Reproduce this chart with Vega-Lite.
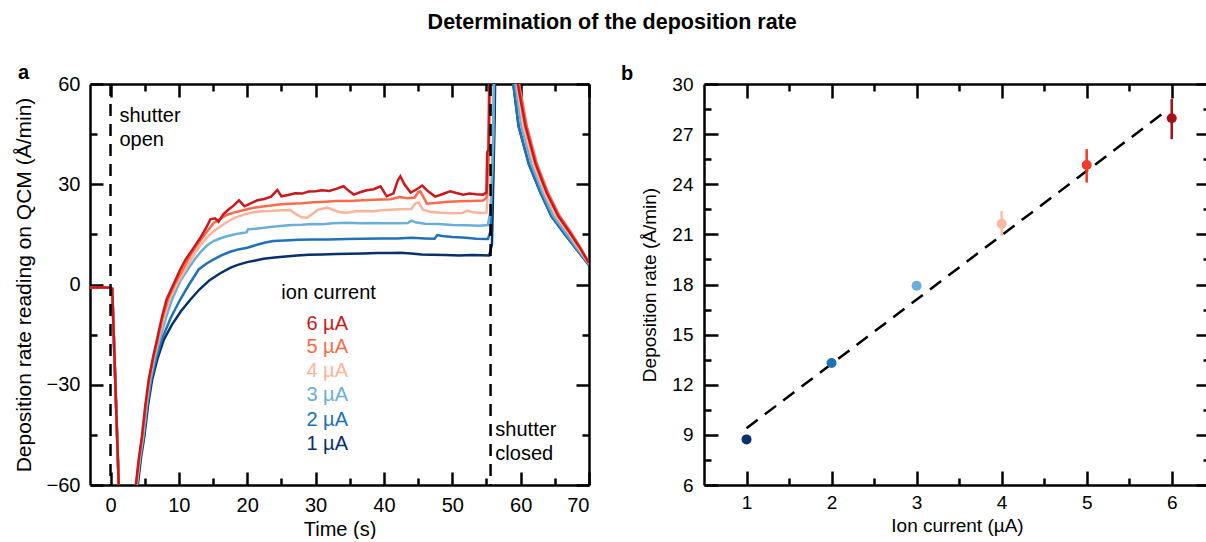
{
  "$schema": "https://vega.github.io/schema/vega-lite/v6.json",
  "padding": {"left": 13, "top": 11, "right": 0, "bottom": 0},
  "autosize": {"type": "pad"},
  "title": {"text": "Determination of the deposition rate", "anchor": "middle", "fontSize": 21.5, "fontWeight": "bold", "font": "Liberation Sans", "color": "black", "offset": 30},
  "config": {
    "font": "Liberation Sans",
    "view": {"stroke": null},
    "axis": {"grid": false, "domainColor": "black", "domainWidth": 2.5, "tickColor": "black", "tickWidth": 2.5, "labelColor": "black", "titleColor": "black", "titleFontWeight": "normal", "labelFont": "Liberation Sans", "titleFont": "Liberation Sans"}
  },
  "spacing": 30,
  "resolve": {"scale": {"color": "independent"}},
  "datasets": {
    "qcm": [
      {"series":"1 µA","t":-3,"v":-0.9},{"series":"1 µA","t":-1.5,"v":-0.8},{"series":"1 µA","t":0,"v":-1.0},{"series":"1 µA","t":0.25,"v":-1.3},{"series":"1 µA","t":1.4,"v":-72},
      {"series":"1 µA","t":3.7,"v":-70},{"series":"1 µA","t":4.0,"v":-60},{"series":"1 µA","t":4.45,"v":-52},{"series":"1 µA","t":4.95,"v":-45.4},{"series":"1 µA","t":5.5,"v":-36},{"series":"1 µA","t":6.1,"v":-28.4},{"series":"1 µA","t":6.9,"v":-22},{"series":"1 µA","t":7.8,"v":-16.5},{"series":"1 µA","t":9.0,"v":-12},{"series":"1 µA","t":10.3,"v":-8},{"series":"1 µA","t":11.7,"v":-4.5},{"series":"1 µA","t":13,"v":-1.5},{"series":"1 µA","t":14.5,"v":1.3},{"series":"1 µA","t":16,"v":3.3},{"series":"1 µA","t":17.5,"v":5},{"series":"1 µA","t":18.5,"v":5.8},{"series":"1 µA","t":20,"v":6.7},{"series":"1 µA","t":21.2,"v":7.2},{"series":"1 µA","t":22.4,"v":7.7},{"series":"1 µA","t":24,"v":8.1},{"series":"1 µA","t":25.6,"v":8.4},{"series":"1 µA","t":27.3,"v":8.7},{"series":"1 µA","t":29,"v":8.9},{"series":"1 µA","t":31,"v":9.0},{"series":"1 µA","t":33,"v":9.1},{"series":"1 µA","t":35,"v":9.2},{"series":"1 µA","t":37,"v":9.3},{"series":"1 µA","t":39,"v":9.4},{"series":"1 µA","t":41,"v":9.4},{"series":"1 µA","t":42.4,"v":9.5},{"series":"1 µA","t":44,"v":9.3},{"series":"1 µA","t":45.5,"v":9.0},{"series":"1 µA","t":47,"v":8.9},{"series":"1 µA","t":49,"v":8.8},{"series":"1 µA","t":51,"v":8.7},{"series":"1 µA","t":53,"v":8.8},{"series":"1 µA","t":55.4,"v":8.7},{"series":"1 µA","t":55.8,"v":12},{"series":"1 µA","t":56.2,"v":50},{"series":"1 µA","t":56.4,"v":85},{"series":"1 µA","t":58.3,"v":85},{"series":"1 µA","t":58.8,"v":62},{"series":"1 µA","t":59.7,"v":47.4},{"series":"1 µA","t":61.2,"v":36},{"series":"1 µA","t":62.9,"v":27.5},{"series":"1 µA","t":64.5,"v":20.5},{"series":"1 µA","t":66.3,"v":15.5},{"series":"1 µA","t":68.2,"v":10.5},{"series":"1 µA","t":70,"v":5.8},

      {"series":"2 µA","t":-3,"v":-0.9},{"series":"2 µA","t":-1.5,"v":-0.8},{"series":"2 µA","t":0,"v":-1.0},{"series":"2 µA","t":0.25,"v":-1.3},{"series":"2 µA","t":1.4,"v":-72},
      {"series":"2 µA","t":3.6,"v":-70},{"series":"2 µA","t":3.9,"v":-60},{"series":"2 µA","t":4.35,"v":-52},{"series":"2 µA","t":4.85,"v":-45.4},{"series":"2 µA","t":5.4,"v":-36},{"series":"2 µA","t":5.95,"v":-28.4},{"series":"2 µA","t":6.7,"v":-22},{"series":"2 µA","t":7.5,"v":-16.5},{"series":"2 µA","t":8.8,"v":-10},{"series":"2 µA","t":10.2,"v":-4.5},{"series":"2 µA","t":11.5,"v":0},{"series":"2 µA","t":12.9,"v":4.5},{"series":"2 µA","t":14,"v":6.2},{"series":"2 µA","t":15.1,"v":7.5},{"series":"2 µA","t":16.3,"v":8.8},{"series":"2 µA","t":17.5,"v":9.8},{"series":"2 µA","t":18.7,"v":10.5},{"series":"2 µA","t":20,"v":11.0},{"series":"2 µA","t":21.3,"v":11.8},{"series":"2 µA","t":22.5,"v":12.5},{"series":"2 µA","t":23.8,"v":13.0},{"series":"2 µA","t":25.5,"v":13.2},{"series":"2 µA","t":27.5,"v":13.4},{"series":"2 µA","t":29.7,"v":13.5},{"series":"2 µA","t":32,"v":13.5},{"series":"2 µA","t":34.5,"v":13.6},{"series":"2 µA","t":37,"v":13.7},{"series":"2 µA","t":39.5,"v":13.8},{"series":"2 µA","t":42,"v":13.8},{"series":"2 µA","t":44,"v":14.0},{"series":"2 µA","t":46,"v":13.8},{"series":"2 µA","t":47.4,"v":13.7},{"series":"2 µA","t":47.8,"v":14.8},{"series":"2 µA","t":48.5,"v":14.5},{"series":"2 µA","t":50,"v":14.2},{"series":"2 µA","t":52,"v":14.0},{"series":"2 µA","t":53.5,"v":13.7},{"series":"2 µA","t":55.2,"v":13.6},{"series":"2 µA","t":55.6,"v":16},{"series":"2 µA","t":56.0,"v":40},{"series":"2 µA","t":56.3,"v":85},{"series":"2 µA","t":58.3,"v":85},{"series":"2 µA","t":58.8,"v":62},{"series":"2 µA","t":59.7,"v":47.4},{"series":"2 µA","t":61.2,"v":36},{"series":"2 µA","t":62.9,"v":27.5},{"series":"2 µA","t":64.5,"v":20.5},{"series":"2 µA","t":66.3,"v":15.5},{"series":"2 µA","t":68.2,"v":10.5},{"series":"2 µA","t":70,"v":5.9},

      {"series":"3 µA","t":-3,"v":-0.9},{"series":"3 µA","t":-1.5,"v":-0.8},{"series":"3 µA","t":0,"v":-1.0},{"series":"3 µA","t":0.25,"v":-1.3},{"series":"3 µA","t":1.4,"v":-72},
      {"series":"3 µA","t":3.6,"v":-70},{"series":"3 µA","t":3.85,"v":-60},{"series":"3 µA","t":4.3,"v":-52},{"series":"3 µA","t":4.8,"v":-45.4},{"series":"3 µA","t":5.3,"v":-36},{"series":"3 µA","t":5.85,"v":-28.4},{"series":"3 µA","t":6.5,"v":-22},{"series":"3 µA","t":7.2,"v":-16.5},{"series":"3 µA","t":8.1,"v":-10},{"series":"3 µA","t":9.0,"v":-4.5},{"series":"3 µA","t":10.2,"v":1},{"series":"3 µA","t":11.3,"v":4.5},{"series":"3 µA","t":12.3,"v":7.5},{"series":"3 µA","t":13.3,"v":10},{"series":"3 µA","t":14.2,"v":11.8},{"series":"3 µA","t":15.1,"v":13},{"series":"3 µA","t":16.2,"v":13.9},{"series":"3 µA","t":17.3,"v":14.6},{"series":"3 µA","t":18.4,"v":15.1},{"series":"3 µA","t":19.5,"v":15.5},{"series":"3 µA","t":19.9,"v":15.6},{"series":"3 µA","t":20.1,"v":16.5},{"series":"3 µA","t":21.2,"v":16.7},{"series":"3 µA","t":22.5,"v":17.0},{"series":"3 µA","t":23.7,"v":17.3},{"series":"3 µA","t":24.9,"v":17.5},{"series":"3 µA","t":26.5,"v":17.8},{"series":"3 µA","t":28,"v":17.9},{"series":"3 µA","t":29.5,"v":18.1},{"series":"3 µA","t":31,"v":18.0},{"series":"3 µA","t":32.5,"v":18.3},{"series":"3 µA","t":34.6,"v":18.5},{"series":"3 µA","t":36.5,"v":18.3},{"series":"3 µA","t":38.5,"v":18.4},{"series":"3 µA","t":40,"v":18.3},{"series":"3 µA","t":42,"v":18.3},{"series":"3 µA","t":43.5,"v":18.4},{"series":"3 µA","t":44.0,"v":19.1},{"series":"3 µA","t":44.6,"v":18.6},{"series":"3 µA","t":46,"v":18.2},{"series":"3 µA","t":48,"v":18.1},{"series":"3 µA","t":50,"v":17.8},{"series":"3 µA","t":52,"v":17.7},{"series":"3 µA","t":54,"v":17.6},{"series":"3 µA","t":55.2,"v":17.8},{"series":"3 µA","t":55.6,"v":22},{"series":"3 µA","t":56.0,"v":45},{"series":"3 µA","t":56.2,"v":85},{"series":"3 µA","t":58.6,"v":85},{"series":"3 µA","t":59.1,"v":62},{"series":"3 µA","t":60.1,"v":47.4},{"series":"3 µA","t":61.6,"v":36},{"series":"3 µA","t":63.2,"v":27.5},{"series":"3 µA","t":64.8,"v":20.5},{"series":"3 µA","t":66.6,"v":15.5},{"series":"3 µA","t":68.4,"v":10.5},{"series":"3 µA","t":70,"v":6.1},

      {"series":"4 µA","t":-3,"v":-0.9},{"series":"4 µA","t":-1.5,"v":-0.8},{"series":"4 µA","t":0,"v":-1.0},{"series":"4 µA","t":0.25,"v":-1.3},{"series":"4 µA","t":1.4,"v":-72},
      {"series":"4 µA","t":3.55,"v":-70},{"series":"4 µA","t":3.8,"v":-60},{"series":"4 µA","t":4.25,"v":-52},{"series":"4 µA","t":4.7,"v":-45.4},{"series":"4 µA","t":5.2,"v":-36},{"series":"4 µA","t":5.7,"v":-28.4},{"series":"4 µA","t":6.3,"v":-22},{"series":"4 µA","t":7.0,"v":-16.5},{"series":"4 µA","t":7.8,"v":-10},{"series":"4 µA","t":8.6,"v":-4.5},{"series":"4 µA","t":9.8,"v":0.5},{"series":"4 µA","t":11.0,"v":4.5},{"series":"4 µA","t":12.0,"v":8.2},{"series":"4 µA","t":13.0,"v":11.3},{"series":"4 µA","t":14.0,"v":13.8},{"series":"4 µA","t":15.0,"v":15.8},{"series":"4 µA","t":16.2,"v":17.6},{"series":"4 µA","t":17.3,"v":19.0},{"series":"4 µA","t":18.3,"v":20.1},{"series":"4 µA","t":19.5,"v":20.9},{"series":"4 µA","t":20.9,"v":21.6},{"series":"4 µA","t":22.2,"v":21.9},{"series":"4 µA","t":23.5,"v":22.0},{"series":"4 µA","t":25.0,"v":22.2},{"series":"4 µA","t":26.3,"v":22.3},{"series":"4 µA","t":27.2,"v":21.0},{"series":"4 µA","t":28.0,"v":20.1},{"series":"4 µA","t":28.8,"v":20.0},{"series":"4 µA","t":29.5,"v":21.0},{"series":"4 µA","t":30.3,"v":22.3},{"series":"4 µA","t":31.7,"v":23.0},{"series":"4 µA","t":32.6,"v":22.3},{"series":"4 µA","t":33.6,"v":21.6},{"series":"4 µA","t":34.6,"v":21.5},{"series":"4 µA","t":35.8,"v":21.9},{"series":"4 µA","t":37.2,"v":22.0},{"series":"4 µA","t":38.5,"v":21.9},{"series":"4 µA","t":39.5,"v":22.2},{"series":"4 µA","t":41,"v":22.4},{"series":"4 µA","t":42.5,"v":22.5},{"series":"4 µA","t":44.0,"v":22.6},{"series":"4 µA","t":44.6,"v":24.3},{"series":"4 µA","t":45.1,"v":24.5},{"series":"4 µA","t":45.7,"v":22.4},{"series":"4 µA","t":46.8,"v":21.8},{"series":"4 µA","t":48.3,"v":21.5},{"series":"4 µA","t":50,"v":21.3},{"series":"4 µA","t":51.5,"v":21.4},{"series":"4 µA","t":52.2,"v":22.1},{"series":"4 µA","t":53,"v":21.6},{"series":"4 µA","t":54,"v":21.4},{"series":"4 µA","t":55.0,"v":21.5},{"series":"4 µA","t":55.3,"v":30},{"series":"4 µA","t":55.8,"v":85},{"series":"4 µA","t":58.9,"v":85},{"series":"4 µA","t":59.3,"v":62},{"series":"4 µA","t":60.4,"v":47.4},{"series":"4 µA","t":61.9,"v":36},{"series":"4 µA","t":63.5,"v":27.5},{"series":"4 µA","t":65.2,"v":20.5},{"series":"4 µA","t":67.0,"v":15.5},{"series":"4 µA","t":68.6,"v":10.5},{"series":"4 µA","t":70,"v":6.2},

      {"series":"5 µA","t":-3,"v":-0.9},{"series":"5 µA","t":-1.5,"v":-0.8},{"series":"5 µA","t":0,"v":-1.0},{"series":"5 µA","t":0.25,"v":-1.3},{"series":"5 µA","t":1.4,"v":-72},
      {"series":"5 µA","t":3.5,"v":-70},{"series":"5 µA","t":3.75,"v":-60},{"series":"5 µA","t":4.2,"v":-52},{"series":"5 µA","t":4.65,"v":-45.4},{"series":"5 µA","t":5.15,"v":-36},{"series":"5 µA","t":5.65,"v":-28.4},{"series":"5 µA","t":6.25,"v":-22},{"series":"5 µA","t":6.9,"v":-16.5},{"series":"5 µA","t":7.6,"v":-10},{"series":"5 µA","t":8.4,"v":-4.5},{"series":"5 µA","t":9.5,"v":0.5},{"series":"5 µA","t":10.6,"v":4.5},{"series":"5 µA","t":11.7,"v":8.8},{"series":"5 µA","t":12.5,"v":11.3},{"series":"5 µA","t":13.3,"v":13.6},{"series":"5 µA","t":14.1,"v":15.8},{"series":"5 µA","t":15.1,"v":18.4},{"series":"5 µA","t":16,"v":19.6},{"series":"5 µA","t":17,"v":20.8},{"series":"5 µA","t":18,"v":21.5},{"series":"5 µA","t":19,"v":22.0},{"series":"5 µA","t":20,"v":22.5},{"series":"5 µA","t":21,"v":23.0},{"series":"5 µA","t":22,"v":23.3},{"series":"5 µA","t":23.2,"v":23.6},{"series":"5 µA","t":24.9,"v":24.0},{"series":"5 µA","t":26.5,"v":24.2},{"series":"5 µA","t":28,"v":24.3},{"series":"5 µA","t":29.7,"v":24.6},{"series":"5 µA","t":31.5,"v":24.8},{"series":"5 µA","t":33,"v":25.0},{"series":"5 µA","t":35,"v":25.0},{"series":"5 µA","t":37,"v":25.2},{"series":"5 µA","t":39.5,"v":25.4},{"series":"5 µA","t":41,"v":25.5},{"series":"5 µA","t":42.3,"v":26.2},{"series":"5 µA","t":43.5,"v":25.8},{"series":"5 µA","t":44.5,"v":26.0},{"series":"5 µA","t":45.0,"v":27.6},{"series":"5 µA","t":45.3,"v":27.9},{"series":"5 µA","t":46.3,"v":24.2},{"series":"5 µA","t":47.5,"v":24.4},{"series":"5 µA","t":49,"v":24.7},{"series":"5 µA","t":51,"v":24.9},{"series":"5 µA","t":53,"v":25.0},{"series":"5 µA","t":54.5,"v":25.1},{"series":"5 µA","t":55.0,"v":26},{"series":"5 µA","t":55.3,"v":38},{"series":"5 µA","t":55.7,"v":85},{"series":"5 µA","t":59.2,"v":85},{"series":"5 µA","t":59.6,"v":62},{"series":"5 µA","t":60.9,"v":47.4},{"series":"5 µA","t":62.4,"v":36},{"series":"5 µA","t":64.0,"v":27.5},{"series":"5 µA","t":65.7,"v":20.5},{"series":"5 µA","t":67.4,"v":15.5},{"series":"5 µA","t":68.9,"v":10.5},{"series":"5 µA","t":70,"v":6.4},

      {"series":"6 µA","t":-3,"v":-0.9},{"series":"6 µA","t":-1.5,"v":-0.8},{"series":"6 µA","t":0,"v":-1.0},{"series":"6 µA","t":0.25,"v":-1.3},{"series":"6 µA","t":1.4,"v":-72},
      {"series":"6 µA","t":3.45,"v":-70},{"series":"6 µA","t":3.7,"v":-60},{"series":"6 µA","t":4.15,"v":-52},{"series":"6 µA","t":4.6,"v":-45.4},{"series":"6 µA","t":5.1,"v":-36},{"series":"6 µA","t":5.6,"v":-28.4},{"series":"6 µA","t":6.2,"v":-22},{"series":"6 µA","t":6.8,"v":-16.5},{"series":"6 µA","t":7.5,"v":-10},{"series":"6 µA","t":8.2,"v":-4.5},{"series":"6 µA","t":9.2,"v":0},{"series":"6 µA","t":10.2,"v":4.5},{"series":"6 µA","t":11,"v":7.5},{"series":"6 µA","t":11.7,"v":9.6},{"series":"6 µA","t":12.5,"v":12},{"series":"6 µA","t":13.3,"v":14.5},{"series":"6 µA","t":14,"v":17},{"series":"6 µA","t":14.6,"v":19.5},{"series":"6 µA","t":15.3,"v":19.8},{"series":"6 µA","t":15.8,"v":18.8},{"series":"6 µA","t":16.5,"v":21},{"series":"6 µA","t":17.3,"v":22.5},{"series":"6 µA","t":18,"v":23.6},{"series":"6 µA","t":18.8,"v":25.2},{"series":"6 µA","t":19.6,"v":23.4},{"series":"6 µA","t":20.5,"v":24.3},{"series":"6 µA","t":21.5,"v":25.2},{"series":"6 µA","t":22.5,"v":25.6},{"series":"6 µA","t":23.5,"v":26.3},{"series":"6 µA","t":24.4,"v":28.3},{"series":"6 µA","t":25,"v":26.4},{"series":"6 µA","t":26,"v":26.8},{"series":"6 µA","t":27,"v":27.3},{"series":"6 µA","t":28,"v":27.2},{"series":"6 µA","t":29,"v":27.8},{"series":"6 µA","t":30,"v":27.9},{"series":"6 µA","t":31,"v":28.2},{"series":"6 µA","t":32,"v":28.0},{"series":"6 µA","t":33,"v":28.6},{"series":"6 µA","t":34.1,"v":29.4},{"series":"6 µA","t":35,"v":27.8},{"series":"6 µA","t":35.6,"v":26.9},{"series":"6 µA","t":36.5,"v":27.6},{"series":"6 µA","t":37.5,"v":28.2},{"series":"6 µA","t":38.5,"v":28.5},{"series":"6 µA","t":39.5,"v":29.4},{"series":"6 µA","t":40.4,"v":26.4},{"series":"6 µA","t":41.4,"v":27.3},{"series":"6 µA","t":42,"v":31},{"series":"6 µA","t":42.4,"v":32.4},{"series":"6 µA","t":43,"v":30},{"series":"6 µA","t":43.9,"v":27.5},{"series":"6 µA","t":44.8,"v":28.5},{"series":"6 µA","t":45.6,"v":29.6},{"series":"6 µA","t":46.5,"v":27.8},{"series":"6 µA","t":47.5,"v":26.3},{"series":"6 µA","t":48.5,"v":27.0},{"series":"6 µA","t":49.7,"v":27.9},{"series":"6 µA","t":50.6,"v":27.4},{"series":"6 µA","t":51.6,"v":26.9},{"series":"6 µA","t":52.5,"v":27.2},{"series":"6 µA","t":53.5,"v":27.0},{"series":"6 µA","t":54.5,"v":26.9},{"series":"6 µA","t":55.0,"v":27.5},{"series":"6 µA","t":55.1,"v":39.5},{"series":"6 µA","t":55.3,"v":40.5},{"series":"6 µA","t":55.5,"v":85},{"series":"6 µA","t":59.0,"v":85},{"series":"6 µA","t":59.4,"v":62},{"series":"6 µA","t":60.7,"v":47.4},{"series":"6 µA","t":62.2,"v":36},{"series":"6 µA","t":63.8,"v":27.5},{"series":"6 µA","t":65.5,"v":20.5},{"series":"6 µA","t":67.2,"v":15.5},{"series":"6 µA","t":68.8,"v":10.5},{"series":"6 µA","t":70,"v":6.4}
    ],
    "shutter": [{"t": 0}, {"t": 55.6}],
    "notes": [
      {"label": "shutter\nopen", "t": 1.3, "v": 53.5},
      {"label": "shutter\nclosed", "t": 56.3, "v": -40.5}
    ],
    "key": [
      {"series": "6 µA", "t": 31.7, "v": -11.7},
      {"series": "5 µA", "t": 31.7, "v": -18.8},
      {"series": "4 µA", "t": 31.7, "v": -26.0},
      {"series": "3 µA", "t": 31.7, "v": -33.2},
      {"series": "2 µA", "t": 31.7, "v": -40.4},
      {"series": "1 µA", "t": 31.7, "v": -47.6}
    ],
    "keytitle": [{"label": "ion current", "t": 31.9, "v": -2.5}],
    "rates": [
      {"current": 1, "rate": 8.73, "lo": 8.55, "hi": 8.9},
      {"current": 2, "rate": 13.3, "lo": 13.1, "hi": 13.5},
      {"current": 3, "rate": 17.93, "lo": 17.65, "hi": 18.2},
      {"current": 4, "rate": 21.64, "lo": 20.9, "hi": 22.4},
      {"current": 5, "rate": 25.15, "lo": 24.1, "hi": 26.1},
      {"current": 6, "rate": 27.95, "lo": 26.7, "hi": 29.1}
    ],
    "fit": [{"current": 1, "fit": 9.4}, {"current": 5.95, "fit": 28.45}]
  },
  "hconcat": [
    {
      "width": 499,
      "height": 401,
      "title": {"text": "a", "anchor": "start", "frame": "group", "dx": -72, "fontSize": 20, "fontWeight": "bold", "offset": -9, "color": "black"},
      "resolve": {"axis": {"x": "independent", "y": "independent"}},
      "layer": [
        {
          "data": {"name": "qcm"},
          "mark": {"type": "line", "clip": true, "strokeWidth": 2.5},
          "encoding": {
            "x": {"field": "t", "type": "quantitative", "scale": {"domain": [-3, 70], "nice": false, "zero": false},
              "axis": {"orient": "bottom", "values": [0,5,10,15,20,25,30,35,40,45,50,55,60,65,70], "labelExpr": "datum.value % 10 === 0 ? datum.label : ''",
                "tickSize": {"condition": {"test": "datum.value % 10 === 0", "value": -13}, "value": -7}, "labelPadding": 23,
                "labelFontSize": 20, "title": "Time (s)", "titleFontSize": 20, "titlePadding": 4}},
            "y": {"field": "v", "type": "quantitative", "scale": {"domain": [-60, 60], "nice": false, "zero": false},
              "axis": {"orient": "left", "values": [-60,-45,-30,-15,0,15,30,45,60], "labelExpr": "datum.value % 30 === 0 ? datum.label : ''",
                "tickSize": {"condition": {"test": "datum.value % 30 === 0", "value": -13}, "value": -7}, "labelPadding": 23,
                "labelFontSize": 20, "title": "Deposition rate reading on QCM (Å/min)", "titleFontSize": 21, "titlePadding": 12}},
            "color": {"field": "series", "type": "nominal",
              "scale": {"domain": ["1 µA","2 µA","3 µA","4 µA","5 µA","6 µA"], "range": ["#08306b","#2171b5","#6baed6","#fcb49c","#fb6a4a","#cb181d"]},
              "legend": null}
          }
        },
        {
          "data": {"name": "shutter"},
          "mark": {"type": "rule", "strokeDash": [12, 8], "strokeWidth": 2.5, "color": "black"},
          "encoding": {
            "x": {"field": "t", "type": "quantitative",
              "axis": {"orient": "top", "values": [0,5,10,15,20,25,30,35,40,45,50,55,60,65,70], "labels": false,
                "tickSize": {"condition": {"test": "datum.value % 10 === 0", "value": -13}, "value": -7}, "title": null}}
          }
        },
        {
          "data": {"name": "notes"},
          "mark": {"type": "text", "align": "left", "baseline": "top", "fontSize": 20, "lineBreak": "\n", "lineHeight": 24, "color": "black"},
          "encoding": {
            "x": {"field": "t", "type": "quantitative", "axis": null},
            "y": {"field": "v", "type": "quantitative",
              "axis": {"orient": "right", "values": [-60,-45,-30,-15,0,15,30,45,60], "labels": false,
                "tickSize": {"condition": {"test": "datum.value % 30 === 0", "value": -13}, "value": -7}, "title": null}},
            "text": {"field": "label"}
          }
        },
        {
          "data": {"name": "keytitle"},
          "mark": {"type": "text", "align": "center", "baseline": "middle", "fontSize": 20, "color": "black"},
          "encoding": {
            "x": {"field": "t", "type": "quantitative", "axis": null},
            "y": {"field": "v", "type": "quantitative", "axis": null},
            "text": {"field": "label"}
          }
        },
        {
          "data": {"name": "key"},
          "mark": {"type": "text", "align": "center", "baseline": "middle", "fontSize": 20},
          "encoding": {
            "x": {"field": "t", "type": "quantitative", "axis": null},
            "y": {"field": "v", "type": "quantitative", "axis": null},
            "text": {"field": "series"},
            "color": {"field": "series", "type": "nominal", "legend": null}
          }
        }
      ]
    },
    {
      "width": 506,
      "height": 401,
      "title": {"text": "b", "anchor": "start", "frame": "group", "dx": -83, "fontSize": 20, "fontWeight": "bold", "offset": -9, "color": "black"},
      "resolve": {"axis": {"x": "independent", "y": "independent"}},
      "layer": [
        {
          "data": {"name": "fit"},
          "mark": {"type": "line", "strokeDash": [14, 9], "strokeWidth": 2.5, "color": "black"},
          "encoding": {
            "x": {"field": "current", "type": "quantitative", "scale": {"domain": [0.5, 6.45], "nice": false, "zero": false},
              "axis": {"orient": "bottom", "values": [1,1.5,2,2.5,3,3.5,4,4.5,5,5.5,6], "labelExpr": "datum.value % 1 === 0 ? format(datum.value, 'd') : ''",
                "tickSize": {"condition": {"test": "datum.value % 1 === 0", "value": -14}, "value": -7}, "labelPadding": 22,
                "labelFontSize": 19, "title": "Ion current (µA)", "titleFontSize": 19, "titlePadding": 4}},
            "y": {"field": "fit", "type": "quantitative", "scale": {"domain": [6, 30], "nice": false, "zero": false},
              "axis": {"orient": "left", "values": [6,7.5,9,10.5,12,13.5,15,16.5,18,19.5,21,22.5,24,25.5,27,28.5,30], "labelExpr": "datum.value % 3 === 0 ? format(datum.value, 'd') : ''",
                "tickSize": {"condition": {"test": "datum.value % 3 === 0", "value": -14}, "value": -7}, "labelPadding": 25,
                "labelFontSize": 19, "title": "Deposition rate (Å/min)", "titleFontSize": 19, "titlePadding": 12}}
          }
        },
        {
          "data": {"name": "rates"},
          "mark": {"type": "rule", "strokeWidth": 2.5},
          "encoding": {
            "x": {"field": "current", "type": "quantitative", "axis": null},
            "y": {"field": "lo", "type": "quantitative", "axis": null},
            "y2": {"field": "hi"},
            "color": {"field": "current", "type": "nominal",
              "scale": {"domain": [1,2,3,4,5,6], "range": ["#08306b","#2171b5","#6baed6","#fcbba1","#ef3b2c","#a50f15"]}, "legend": null}
          }
        },
        {
          "data": {"name": "rates"},
          "mark": {"type": "point", "shape": "circle", "filled": true, "size": 100, "opacity": 1},
          "encoding": {
            "x": {"field": "current", "type": "quantitative",
              "axis": {"orient": "top", "values": [1,1.5,2,2.5,3,3.5,4,4.5,5,5.5,6], "labels": false,
                "tickSize": {"condition": {"test": "datum.value % 1 === 0", "value": -14}, "value": -7}, "title": null}},
            "y": {"field": "rate", "type": "quantitative",
              "axis": {"orient": "right", "values": [6,7.5,9,10.5,12,13.5,15,16.5,18,19.5,21,22.5,24,25.5,27,28.5,30], "labels": false,
                "tickSize": {"condition": {"test": "datum.value % 3 === 0", "value": -14}, "value": -7}, "title": null}},
            "color": {"field": "current", "type": "nominal", "legend": null}
          }
        }
      ]
    }
  ]
}
